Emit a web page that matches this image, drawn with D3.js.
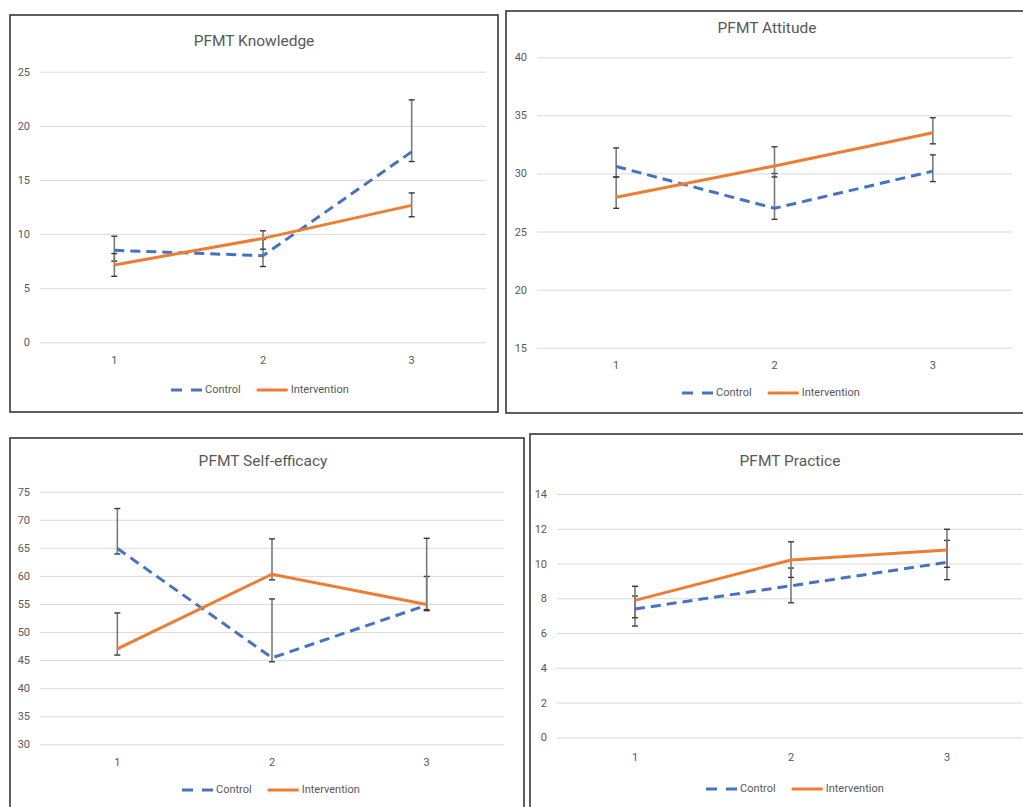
<!DOCTYPE html>
<html>
<head>
<meta charset="utf-8">
<script src="https://cdn.jsdelivr.net/npm/d3@7"></script>
<style>
    body { margin: 0; background: #fff; }
    svg { display: block; }
    .tick text { fill: #595959; font-family: Roboto, "Liberation Sans", sans-serif; font-size: 11px; }
</style>
</head>
<body>
<div id="charts"></div>
<script>
    // values
    let timePoints = ["1", "2", "3"];
    let seriesNames = ["Control", "Intervention"];

    let knowledgeTicks = [0, 5, 10, 15, 20, 25];
    let knowledgeControl = [8.5, 8.0, 17.6];
    let knowledgeControlLow = [7.5, 7.0, 16.7];
    let knowledgeControlHigh = [9.8, 9.5, 22.4];
    let knowledgeIntervention = [7.15, 9.6, 12.65];
    let knowledgeInterventionLow = [6.1, 8.6, 11.6];
    let knowledgeInterventionHigh = [8.2, 10.3, 13.8];

    let attitudeTicks = [15, 20, 25, 30, 35, 40];
    let attitudeControl = [30.6, 27.0, 30.2];
    let attitudeControlLow = [29.7, 26.05, 29.3];
    let attitudeControlHigh = [32.2, 30.0, 31.6];
    let attitudeIntervention = [27.95, 30.65, 33.5];
    let attitudeInterventionLow = [27.0, 29.7, 32.55];
    let attitudeInterventionHigh = [29.7, 32.3, 34.8];

    let efficacyTicks = [30, 35, 40, 45, 50, 55, 60, 65, 70, 75];
    let efficacyControl = [64.9, 45.4, 54.8];
    let efficacyControlLow = [63.9, 44.7, 53.8];
    let efficacyControlHigh = [72.0, 55.9, 59.9];
    let efficacyIntervention = [47.0, 60.3, 54.9];
    let efficacyInterventionLow = [45.9, 59.3, 54.0];
    let efficacyInterventionHigh = [53.4, 66.6, 66.7];

    let practiceTicks = [0, 2, 4, 6, 8, 10, 12, 14];
    let practiceControl = [7.38, 8.72, 10.07];
    let practiceControlLow = [6.4, 7.74, 9.07];
    let practiceControlHigh = [8.13, 9.74, 11.33];
    let practiceIntervention = [7.88, 10.2, 10.78];
    let practiceInterventionLow = [6.88, 9.2, 9.78];
    let practiceInterventionHigh = [8.69, 11.25, 11.97];

    let colors = ["#4472c4", "#ed7d31"];
    let dashes = ["10,6", null];

    let w = 1023;
    let h = 807;
    let svg = d3.select("#charts")
        .append("svg")
        .attr("width", w)
        .attr("height", h);

    let panels = [
        {
            title: "PFMT Knowledge", ticks: knowledgeTicks,
            series: [[knowledgeControl, knowledgeControlLow, knowledgeControlHigh],
                     [knowledgeIntervention, knowledgeInterventionLow, knowledgeInterventionHigh]],
            box: [10, 15, 498, 412], px: [40, 486], py: [342.3, 71.7],
            titleX: 254, titleY: 42, labelY: 360, legendX: 171, legendY: 390
        },
        {
            title: "PFMT Attitude", ticks: attitudeTicks,
            series: [[attitudeControl, attitudeControlLow, attitudeControlHigh],
                     [attitudeIntervention, attitudeInterventionLow, attitudeInterventionHigh]],
            box: [506, 11, 1030, 413], px: [537, 1012], py: [347.7, 57.3],
            titleX: 767, titleY: 29, labelY: 365, legendX: 682, legendY: 393
        },
        {
            title: "PFMT Self-efficacy", ticks: efficacyTicks,
            series: [[efficacyControl, efficacyControlLow, efficacyControlHigh],
                     [efficacyIntervention, efficacyInterventionLow, efficacyInterventionHigh]],
            box: [10, 438, 524, 815], px: [40, 504], py: [744.3, 491.7],
            titleX: 263, titleY: 462, labelY: 762, legendX: 182, legendY: 790
        },
        {
            title: "PFMT Practice", ticks: practiceTicks,
            series: [[practiceControl, practiceControlLow, practiceControlHigh],
                     [practiceIntervention, practiceInterventionLow, practiceInterventionHigh]],
            box: [530, 434, 1030, 815], px: [557, 1025], py: [737.3, 494],
            titleX: 790, titleY: 462, labelY: 757, legendX: 706, legendY: 789
        }
    ];

    let drawPanel = (p) => {
        let g = svg.append("g");

        g.append("rect")
            .attr("x", p.box[0])
            .attr("y", p.box[1])
            .attr("width", p.box[2] - p.box[0])
            .attr("height", p.box[3] - p.box[1])
            .attr("fill", "#fff")
            .attr("stroke", "#2b2b2b")
            .attr("stroke-width", 1.5);

        let x = d3.scaleBand()
            .domain(timePoints)
            .range(p.px);

        let y = d3.scaleLinear()
            .domain([p.ticks[0], p.ticks[p.ticks.length - 1]])
            .range(p.py);

        let cx = (i) => x(timePoints[i]) + x.bandwidth() / 2;

        // gridlines + y labels
        let yAxis = d3.axisLeft(y)
            .tickValues(p.ticks)
            .tickSize(-(p.px[1] - p.px[0]))
            .tickPadding(10);

        let ya = g.append("g")
            .attr("transform", "translate(" + p.px[0] + ",0)")
            .call(yAxis);
        ya.select(".domain").remove();
        ya.selectAll(".tick line").attr("stroke", "#d9d9d9").attr("stroke-width", 1);

        let xAxis = d3.axisBottom(x)
            .tickSize(0)
            .tickPadding(0);

        let xa = g.append("g")
            .attr("transform", "translate(0," + (p.labelY - 4) + ")")
            .call(xAxis);
        xa.select(".domain").remove();

        g.append("text")
            .attr("x", p.titleX)
            .attr("y", p.titleY)
            .attr("text-anchor", "middle")
            .attr("dominant-baseline", "middle")
            .attr("fill", "#595959")
            .style("font-family", "Roboto, 'Liberation Sans', sans-serif")
            .style("font-size", "15.5px")
            .text(p.title);

        // error bars
        p.series.forEach((s) => {
            let bars = g.append("g");
            s[0].forEach((v, i) => {
                bars.append("line")
                    .attr("x1", cx(i)).attr("x2", cx(i))
                    .attr("y1", y(s[1][i])).attr("y2", y(s[2][i]))
                    .attr("stroke", "#7a7a7a")
                    .attr("stroke-width", 1.6);
                [s[1][i], s[2][i]].forEach((e) => {
                    bars.append("line")
                        .attr("x1", cx(i) - 3).attr("x2", cx(i) + 3)
                        .attr("y1", y(e)).attr("y2", y(e))
                        .attr("stroke", "#3a3a3a")
                        .attr("stroke-width", 1.4);
                });
            });
        });

        let line = d3.line()
            .x((d, i) => cx(i))
            .y((d) => y(d));

        p.series.forEach((s, k) => {
            g.append("path")
                .datum(s[0])
                .attr("d", line)
                .attr("fill", "none")
                .attr("stroke", colors[k])
                .attr("stroke-width", 3)
                .attr("stroke-dasharray", dashes[k]);
        });

        // legend
        let lx = p.legendX;
        seriesNames.forEach((name, k) => {
            g.append("line")
                .attr("x1", lx).attr("x2", lx + 31)
                .attr("y1", p.legendY).attr("y2", p.legendY)
                .attr("stroke", colors[k])
                .attr("stroke-width", 3)
                .attr("stroke-dasharray", dashes[k] ? "11,9" : null);
            let t = g.append("text")
                .attr("x", lx + 34)
                .attr("y", p.legendY)
                .attr("dominant-baseline", "middle")
                .attr("fill", "#595959")
                .style("font-family", "Roboto, 'Liberation Sans', sans-serif")
                .style("font-size", "11px")
                .text(name);
            lx += 34 + t.node().getComputedTextLength() + 16;
        });
    };

    panels.forEach(drawPanel);
</script>
</body>
</html>
